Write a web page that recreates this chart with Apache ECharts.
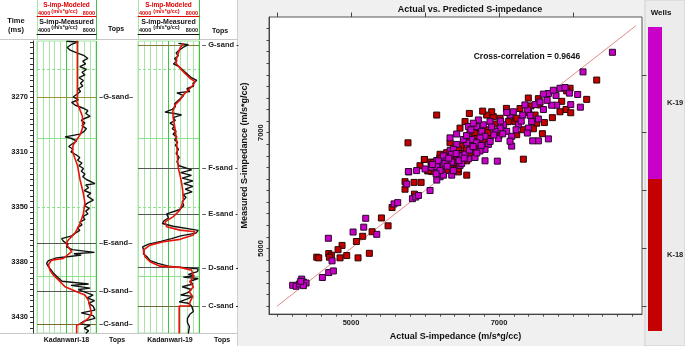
<!DOCTYPE html>
<html>
<head>
<meta charset="utf-8">
<script src="https://cdn.jsdelivr.net/npm/echarts@6/dist/echarts.min.js"></script>
<style>
  html, body { margin: 0; padding: 0; background: #fff; }
  #chart { width: 685px; height: 346px; }
</style>
</head>
<body>
<div id="chart"></div>
<script>
var FONT = '"Liberation Sans", Arial, sans-serif';
var MAGENTA = '#c800c8';
var DARKRED = '#c40000';
var LOGRED = '#e8140c';

// ---- well log data: [S-impedance, time ms] ----
var timeTicks = [3270, 3310, 3350, 3390, 3430];
var timeLabels = ['3270', '3310', '3350', '3380', '3430'];
var gridDashed = [3250, 3350];
var gridSolid = [3300, 3400];

var tops18 = ['G-sand', 'E-sand', 'D-sand', 'C-sand'];
var tops18Time = [3270, 3376.2, 3411.1, 3435.1];
var tops19 = ['G-sand', 'F-sand', 'E-sand', 'D-sand', 'C-sand'];
var tops19Time = [3232.5, 3321.6, 3355.3, 3394.1, 3422];

var measured18 = [
  [6000, 3229.5], [6800, 3230], [6300, 3232], [6050, 3234], [6250, 3236], [6700, 3238], [7200, 3240],
  [7450, 3242], [7100, 3244], [7300, 3246], [6900, 3248], [7350, 3250], [7050, 3252], [7250, 3254],
  [6850, 3256], [7150, 3258], [6950, 3260], [7100, 3262], [6800, 3264], [6950, 3266], [6700, 3268],
  [6450, 3270], [6800, 3272], [6350, 3274], [6600, 3276], [7100, 3278], [7450, 3280], [7300, 3282],
  [7600, 3284], [7150, 3286], [7000, 3287], [7250, 3289], [7050, 3291], [7350, 3293], [7200, 3295],
  [6900, 3297], [5900, 3299], [6300, 3300], [6700, 3302], [6400, 3304], [6150, 3306], [6450, 3308],
  [6300, 3310], [6650, 3312], [6900, 3314], [6750, 3316], [7050, 3318], [6850, 3320], [7150, 3322],
  [7000, 3324], [7250, 3326], [7100, 3328], [7350, 3330], [7930, 3333], [7300, 3334], [7500, 3336],
  [7200, 3338], [7650, 3340], [7400, 3342], [7820, 3345], [7450, 3347], [7200, 3349], [7550, 3351],
  [7300, 3353], [7450, 3355], [7100, 3357], [7250, 3359], [6900, 3361], [7050, 3363], [6750, 3365],
  [6900, 3367], [6600, 3369], [6350, 3371], [5670, 3373], [5800, 3375], [6100, 3377], [6000, 3379],
  [6400, 3381], [7900, 3383], [6500, 3384], [7000, 3385], [6200, 3386], [5330, 3387], [4770, 3389],
  [4650, 3391], [4750, 3393], [4900, 3395], [5100, 3398], [5400, 3401], [5700, 3404], [7500, 3406],
  [6300, 3407], [7600, 3409], [6800, 3410], [7300, 3412], [7800, 3414], [7400, 3416], [7900, 3418],
  [7500, 3420], [7800, 3422], [7930, 3425], [7000, 3427], [7800, 3429], [7930, 3431], [7200, 3433],
  [6900, 3435], [7600, 3436], [7200, 3438], [7500, 3440], [7300, 3442]
];
var modeled18 = [
  [6735, 3229], [6735, 3270], [6680, 3273], [6900, 3279], [7080, 3284], [7100, 3292], [6950, 3297],
  [6700, 3301], [6450, 3305], [6400, 3309], [6550, 3314], [6750, 3320], [6915, 3330], [7140, 3340],
  [7250, 3347], [7140, 3355], [6915, 3362], [6580, 3369], [6120, 3374], [5970, 3376.5], [6120, 3379],
  [6350, 3382.5], [5790, 3387.4], [4990, 3388.6], [4770, 3392], [4880, 3396], [5110, 3399.5],
  [5450, 3403], [5900, 3408], [6690, 3411.6], [7250, 3414], [7480, 3417.7], [7590, 3422.5],
  [7700, 3427.4], [7480, 3431], [7030, 3434.6], [6690, 3436], [6690, 3442]
];
var measured19 = [
  [6650, 3231], [7300, 3232], [6950, 3234], [6700, 3236], [6500, 3238], [6650, 3240], [6400, 3242],
  [6550, 3244], [6320, 3246], [6700, 3248], [6900, 3250], [7100, 3252], [7300, 3254], [7500, 3256],
  [7850, 3258], [7600, 3260], [7650, 3262], [7200, 3264], [7400, 3266], [6550, 3267], [7000, 3269],
  [6800, 3271], [6600, 3273], [6400, 3275], [6450, 3277], [6250, 3279], [5770, 3281], [6400, 3282],
  [6860, 3283], [6300, 3285], [6450, 3287], [6100, 3289], [6400, 3291], [6250, 3293], [6500, 3295],
  [6300, 3297], [6550, 3299], [6400, 3301], [6600, 3303], [6450, 3305], [6650, 3308], [6500, 3311],
  [6700, 3314], [6550, 3317], [6700, 3320], [7520, 3323], [6800, 3325], [7500, 3327], [6900, 3329],
  [7600, 3331], [7000, 3333], [7600, 3335], [7100, 3337], [7550, 3339], [6950, 3341], [7150, 3343],
  [6900, 3346], [7000, 3349], [6700, 3352], [5880, 3355], [6000, 3358], [5700, 3360], [5600, 3362],
  [6300, 3364], [7950, 3367], [7800, 3369], [6800, 3371], [6200, 3373], [5500, 3375], [4700, 3377],
  [4300, 3379], [4240, 3380], [4400, 3382], [4350, 3384], [4570, 3386], [4800, 3389], [5300, 3391],
  [6000, 3393], [7950, 3395], [7900, 3397], [7300, 3399], [7700, 3400], [6970, 3401], [7950, 3402],
  [7400, 3404], [7600, 3406], [6900, 3408], [7500, 3410], [7300, 3412], [6800, 3414], [7600, 3415],
  [7200, 3417], [6700, 3419], [7300, 3420], [7520, 3422]
];
var measured19Tail = [
  [7520, 3422], [7630, 3426], [7400, 3428], [7240, 3431], [7240, 3434], [7370, 3437], [7300, 3442]
];
var modeled19 = [
  [6973, 3231], [6754, 3234.6], [6535, 3241.9], [6492, 3245.5], [6754, 3249], [7082, 3252.8],
  [7410, 3256.4], [7738, 3258.8], [7628, 3261.3], [7300, 3264.9], [6973, 3268.5], [6754, 3272.2],
  [6426, 3275.8], [6273, 3280.7], [6317, 3285.5], [6426, 3292.8], [6535, 3302.5], [6579, 3312.2],
  [6645, 3321.9], [6754, 3326.7], [6864, 3332.8], [6929, 3337.7], [6973, 3345], [6754, 3352.2],
  [6317, 3357], [5770, 3360.7], [5880, 3364.3], [6754, 3366.8], [7738, 3368], [7628, 3370.4],
  [6754, 3373.5], [5661, 3375.2], [4787, 3377.7], [4349, 3381.3], [4458, 3386.2], [4787, 3389.8],
  [5443, 3393], [6754, 3393.9], [7519, 3395.9], [7628, 3400.7], [7410, 3404.3], [7628, 3408],
  [7366, 3411.6], [7585, 3415.2], [7410, 3418.9], [7366, 3422], [6700, 3422], [6700, 3442]
];

// ---- cross-plot data: [actual, measured] ----
var k19Points = [
  [4212, 4362], [4257, 4345], [4302, 4384], [4334, 4469], [4357, 4418], [4393, 4401], [4357, 4356],
  [4320, 4430], [4613, 4497], [4699, 4582], [4762, 4610], [4744, 4785], [4694, 5175], [5028, 5283],
  [5172, 5367], [5199, 5520], [5348, 5243], [5582, 5769], [5631, 5791], [5753, 6113], [5780, 6322],
  [5830, 5859], [5875, 5887], [5911, 5915], [6068, 6000], [6159, 6520], [6204, 6492], [6249, 6520],
  [6226, 6322], [6204, 6238], [6249, 6266], [6361, 6492], [6496, 6605], [6474, 6435], [6361, 6266],
  [6339, 6690], [6586, 6548], [6159, 6181], [8532, 8390], [8135, 8051], [8063, 7661], [8099, 7441],
  [5775, 6328], [6977, 6508], [7667, 6893], [7532, 6859], [7455, 6859], [7969, 7486], [7779, 7475],
  [7712, 7475], [7770, 7644], [7667, 7678], [7599, 7667], [7734, 7734], [7824, 7768], [7892, 7780],
  [7951, 7684], [7487, 7486], [7554, 7531], [7387, 7390], [7320, 7305], [7532, 7237], [7441, 7192],
  [7396, 7079], [7383, 6994], [7261, 7136], [7149, 7305], [7104, 7350], [7194, 7362], [7059, 7136],
  [7014, 7079], [7104, 7023], [7171, 6938], [7171, 6768], [7149, 6853], [6878, 7192], [6788, 7136],
  [6721, 7220], [6698, 7107], [6766, 7023], [6946, 7023], [6991, 6898], [6811, 6938], [6743, 6910],
  [6428, 6977], [6631, 6881], [6698, 6825], [6856, 6797], [6811, 6712], [6743, 6684], [6563, 6825],
  [6518, 6881], [6428, 6797], [6383, 6712], [6360, 6627], [6248, 6599], [6180, 6514], [6293, 6514],
  [6473, 6599], [6541, 6627], [6676, 6571], [6811, 6514], [6090, 6401], [6158, 6412], [6248, 6429],
  [6496, 6469], [6203, 6345], [6383, 6345], [6338, 6910], [6586, 7107], [6653, 7164], [5887, 6345],
  [6000, 6373], [6270, 6470], [6320, 6560], [6420, 6640], [6460, 6520], [6530, 6560], [6600, 6700],
  [6650, 6760], [6700, 6650], [6760, 6780], [6880, 6850], [6930, 6960], [7050, 6980], [7230, 7050],
  [7300, 7200], [7420, 7300], [7600, 7400], [6150, 6290], [6300, 6420], [6560, 6950], [6620, 7050],
  [6900, 7100], [7020, 7200], [7350, 7480], [7650, 7560], [6100, 6450]
];
var k18Points = [
  [4537, 4848], [4564, 4836], [4699, 4910], [4735, 4882], [4708, 4848], [4852, 4836], [4879, 5051],
  [4825, 4978], [4942, 4876], [5095, 4836], [5248, 4915], [5073, 5119], [5158, 5209], [5285, 5288],
  [5411, 5526], [5501, 5390], [5555, 5706], [5730, 6153], [5730, 6023], [5852, 6141], [5947, 6141],
  [5857, 5938], [5992, 6537], [6037, 6339], [6091, 6328], [6082, 6492], [6181, 6407], [6294, 6351],
  [6406, 6520], [6429, 6407], [6541, 6633], [6564, 6266], [6249, 6605], [6451, 6322], [6226, 6605],
  [8320, 7910], [8185, 7576], [6158, 7305], [5770, 6825], [5991, 6537], [7329, 6542], [7586, 6983],
  [7721, 7260], [7847, 7542], [7905, 7401], [7969, 7345], [7824, 7362], [7960, 7768], [7914, 7723],
  [7532, 7588], [7396, 7599], [7432, 7463], [7284, 7418], [7487, 7305], [7613, 7175], [7509, 7164],
  [7464, 7068], [7329, 7051], [7216, 7192], [7239, 7249], [7126, 7192], [7239, 6966], [7014, 7249],
  [6923, 7277], [6901, 7362], [6833, 7305], [6779, 7373], [6833, 7051], [6878, 6910], [6676, 6994],
  [6608, 7051], [6599, 7333], [6541, 7192], [6473, 7079], [6586, 6938], [6788, 6853], [6676, 6740],
  [6608, 6768], [6496, 6768], [6450, 6712], [6338, 6825], [6293, 6655], [6203, 6627], [6405, 6542],
  [6608, 6627], [6113, 6486], [6338, 6401], [6428, 6412], [6045, 6345], [6293, 6345], [6450, 6373],
  [6563, 6514], [6743, 7079], [5932, 6429], [6350, 6600], [6480, 6640], [6560, 6700], [6700, 6900],
  [6850, 7000], [6950, 7150], [7100, 7420], [7400, 7350], [7550, 7480], [6250, 6480], [6380, 6480],
  [6650, 6850], [7000, 6950], [6200, 6560]
];
var refLine = [[4000, 4000], [8850, 8850]];
var scatterMajor = [4000, 5000, 6000, 7000, 8000];
var scatterLabels = [5000, 7000];
var scaleEnds = ['4000', '8000'];

// tick positions
var timeMinor = [];
for (var t = 3230; t <= 3440; t += 4) timeMinor.push(t);
var scatterMinor = [];
for (var s = 4000; s <= 8800; s += 200) scatterMinor.push(s);

var topColors18 = ['#9c9432', '#555', '#555', '#7d6a28'];
var topColors19 = ['#7f7a35', '#555', '#555', '#555', '#6b6b3a'];

function bold(size) { return 'bold ' + size + 'px ' + FONT; }
function plain(v) { return String(v); }

function gridLineMarks() {
  var d = [];
  gridDashed.forEach(function (v) { d.push({ yAxis: v, lineStyle: { type: [3, 2] } }); });
  gridSolid.forEach(function (v) { d.push({ yAxis: v, lineStyle: { type: 'solid' } }); });
  d.push({ xAxis: 6000, lineStyle: { color: '#3ec43e', type: 'solid' } });
  d.push({ xAxis: 8000, lineStyle: { color: '#3ec43e', type: 'solid' } });
  return {
    silent: true, symbol: ['none', 'none'], z: 1, animation: false,
    label: { show: false },
    lineStyle: { color: '#8fe08f', width: 1 },
    data: d
  };
}

function topsMarks(names, times, colors, fmt, stubs) {
  var d = names.map(function (n, i) {
    return { yAxis: times[i], label: { formatter: fmt(n) }, lineStyle: { color: colors[i] } };
  });
  (stubs || []).forEach(function (i) {
    d.push([{ coord: [3540, times[i]], label: { show: false }, lineStyle: { color: '#eaea40', width: 2 } },
            { coord: [4000, times[i]] }]);
  });
  return {
    silent: true, symbol: ['none', 'none'], z: 3, animation: false,
    lineStyle: { width: 1, type: 'solid' },
    label: { position: 'end', distance: 3, fontSize: 7.5, fontWeight: 'bold', color: '#222', fontFamily: FONT },
    data: d
  };
}

// two scale lines on top of each track: measured (black) and modeled (red)
function trackAxes(gridIndex) {
  var common = {
    gridIndex: gridIndex, type: 'value', position: 'top', min: 4000, max: 8000, interval: 400,
    axisTick: { show: false }, axisLabel: { show: false }
  };
  var meas = Object.assign({}, common, {
    offset: 7,
    axisLine: { show: true, lineStyle: { color: '#111', width: 1 } },
    splitLine: { show: true, lineStyle: { color: '#a8e6a8', width: 1 } }
  });
  var mod = Object.assign({}, common, {
    offset: 25,
    axisLine: { show: true, lineStyle: { color: '#e00000', width: 1 } },
    splitLine: { show: false }
  });
  return [meas, mod];
}

function text(str, x, y, size, color, align) {
  return { type: 'text', x: x, y: y, silent: true,
    style: { text: str, font: bold(size), fill: color || '#111', textAlign: align || 'center', textVerticalAlign: 'middle' } };
}
function hline(x1, x2, y, color) {
  return { type: 'line', silent: true, shape: { x1: x1, y1: y, x2: x2, y2: y }, style: { stroke: color, lineWidth: 1 } };
}
function vline(x, y1, y2, color) {
  return { type: 'line', silent: true, shape: { x1: x, y1: y1, x2: x, y2: y2 }, style: { stroke: color, lineWidth: 1 } };
}
// header scale text for one track
function scaleText(left, right, yLabel, yUnit, color) {
  return [
    text(scaleEnds[0], left + 1, yLabel, 5.5, color, 'left'),
    text('(m/s*g/cc)', (left + right) / 2 - 2, yUnit, 5.5, color),
    text(scaleEnds[1], right - 1, yLabel, 5.5, color, 'right')
  ];
}

var chart = echarts.init(document.getElementById('chart'), null, { renderer: 'canvas' });

var xAxes = trackAxes(0).concat(trackAxes(1)).concat([
  {
    gridIndex: 2, type: 'value', min: 3892, max: 8932,
    axisLine: { show: true, lineStyle: { color: '#444' } },
    axisTick: { show: true, customValues: scatterMinor, length: 2.5, lineStyle: { color: '#444' } },
    axisLabel: { customValues: scatterLabels, formatter: plain, margin: 5, fontSize: 7.5, fontWeight: 'bold', color: '#222', fontFamily: FONT },
    splitLine: { show: false },
    name: 'Actual S-impedance (m/s*g/cc)', nameLocation: 'middle', nameGap: 14,
    nameTextStyle: { fontSize: 9, fontWeight: 'bold', color: '#111', fontFamily: FONT }
  },
  {
    gridIndex: 2, type: 'value', min: 3892, max: 8932,
    axisLine: { show: false },
    axisTick: { show: true, customValues: scatterMajor, length: 4.5, lineStyle: { color: '#444' } },
    axisLabel: { show: false }, splitLine: { show: false }
  }
]);

var yAxes = [
  {
    gridIndex: 0, type: 'value', inverse: true, min: 3229.3, max: 3441.6, offset: 4,
    axisLine: { show: true, lineStyle: { color: '#333' } },
    axisTick: { show: true, customValues: timeMinor, length: 3, lineStyle: { color: '#333' } },
    axisLabel: {
      customValues: timeTicks, margin: 5, fontSize: 7.5, fontWeight: 'bold', color: '#111', fontFamily: FONT,
      formatter: function (v) { var i = timeTicks.indexOf(v); return i >= 0 ? timeLabels[i] : ''; }
    },
    splitLine: { show: false }
  },
  { gridIndex: 1, type: 'value', inverse: true, min: 3229.3, max: 3441.6, show: false, splitLine: { show: false } },
  {
    gridIndex: 2, type: 'value', min: 3864, max: 9000,
    axisLine: { show: true, lineStyle: { color: '#444' } },
    axisTick: { show: true, customValues: scatterMinor, length: 2.5, lineStyle: { color: '#444' } },
    axisLabel: { customValues: scatterLabels, formatter: plain, rotate: 90, margin: 4, fontSize: 7.5, fontWeight: 'bold', color: '#222', fontFamily: FONT },
    splitLine: { show: false },
    name: 'Measured S-impedance (m/s*g/cc)', nameLocation: 'middle', nameGap: 18, nameRotate: 90,
    nameTextStyle: { fontSize: 9, fontWeight: 'bold', color: '#111', fontFamily: FONT, padding: [0, 0, 0, 20] }
  },
  {
    gridIndex: 2, type: 'value', min: 3864, max: 9000,
    axisLine: { show: false },
    axisTick: { show: true, customValues: scatterMajor, length: 4.5, lineStyle: { color: '#444' } },
    axisLabel: { show: false }, splitLine: { show: false }
  }
];

function logLine(name, data, xi, yi, color, width) {
  return {
    name: name, type: 'line', xAxisIndex: xi, yAxisIndex: yi, data: data,
    symbol: 'none', silent: true, clip: true,
    lineStyle: { color: color, width: width }, z: 4
  };
}

var option = {
  animation: false,
  backgroundColor: '#f0f0f0',
  textStyle: { fontFamily: FONT },
  grid: [
    { left: 37, top: 41, width: 59, height: 292, show: true, borderColor: '#a8e6a8', borderWidth: 1, backgroundColor: '#fff' },
    { left: 138, top: 41, width: 61, height: 292, show: true, borderColor: '#a8e6a8', borderWidth: 1, backgroundColor: '#fff' },
    { left: 269, top: 17, width: 373, height: 303, show: true, borderColor: '#555', borderWidth: 1, backgroundColor: '#fff' }
  ],
  xAxis: xAxes,
  yAxis: yAxes,
  legend: {
    data: ['K-19', 'K-18'], orient: 'vertical', left: 648, top: 27, padding: 0,
    itemWidth: 14, itemHeight: 152, itemGap: 0, icon: 'rect', selectedMode: false,
    itemStyle: { borderWidth: 0 },
    textStyle: { fontSize: 7.5, fontWeight: 'bold', color: '#222', fontFamily: FONT }
  },
  graphic: [
    { type: 'rect', z: -1, silent: true, shape: { x: 0, y: 0, width: 237, height: 346 }, style: { fill: '#fff' } },
    { type: 'rect', z: -1, silent: true, shape: { x: 645, y: 0, width: 40, height: 346 }, style: { fill: '#ececec', stroke: '#cfcfcf' } },
    hline(0, 237, 39.5, '#c8c8c8'),
    hline(0, 237, 333.5, '#c8c8c8'),
    vline(237.5, 0, 346, '#d0d0d0'),
    vline(37.5, 0, 40, '#a8e6a8'), vline(96.5, 0, 40, '#3ec43e'),
    vline(138.5, 0, 40, '#a8e6a8'), vline(199.5, 0, 40, '#3ec43e'),
    text('Time', 16, 21, 7.5), text('(ms)', 16, 30, 7.5),
    text('S-imp-Modeled', 66.5, 5, 6.5, '#e00000'),
    text('S-imp-Measured', 66.5, 22, 7),
    text('S-imp-Modeled', 168.5, 5, 6.5, '#e00000'),
    text('S-imp-Measured', 168.5, 22, 7),
    text('Tops', 116, 29, 7), text('Tops', 220, 31, 7),
    text('Kadanwari-18', 66.5, 340, 7), text('Tops', 117, 340, 7),
    text('Kadanwari-19', 170, 340, 7), text('Tops', 222, 340, 7),
    text('Actual vs. Predicted S-impedance', 470, 10, 9),
    text('Cross-correlation = 0.9646', 527, 57, 8.5),
    text('Wells', 661, 13, 8)
  ].concat(scaleText(37, 96, 13, 11, '#e00000'))
   .concat(scaleText(37, 96, 30, 27.5, '#111'))
   .concat(scaleText(138, 199, 13, 11, '#e00000'))
   .concat(scaleText(138, 199, 30, 27.5, '#111')),
  series: [
    { name: 'grid18', type: 'line', xAxisIndex: 0, yAxisIndex: 0, data: [], silent: true, markLine: gridLineMarks() },
    { name: 'tops18', type: 'line', xAxisIndex: 0, yAxisIndex: 0, data: [], silent: true,
      markLine: topsMarks(tops18, tops18Time, topColors18, function (n) { return '\u2013' + n + '\u2013'; }) },
    logLine('measured18', measured18, 0, 0, '#111', 1.4),
    logLine('modeled18', modeled18, 1, 0, LOGRED, 1.6),

    { name: 'grid19', type: 'line', xAxisIndex: 2, yAxisIndex: 1, data: [], silent: true, markLine: gridLineMarks() },
    { name: 'tops19', type: 'line', xAxisIndex: 2, yAxisIndex: 1, data: [], silent: true, clip: false,
      markLine: topsMarks(tops19, tops19Time, topColors19, function (n) { return '\u2013 ' + n + ' -'; }, [0, 4]) },
    logLine('measured19', measured19, 2, 1, '#111', 1.4),
    logLine('measured19Tail', measured19Tail, 2, 1, '#111', 1.4),
    logLine('modeled19', modeled19, 3, 1, LOGRED, 1.6),

    { name: 'ref', type: 'line', xAxisIndex: 4, yAxisIndex: 2, data: refLine, symbol: 'none', silent: true,
      lineStyle: { color: '#e08a8a', width: 1 }, z: 2 },
    { name: 'K-18', type: 'scatter', xAxisIndex: 4, yAxisIndex: 2, data: k18Points, symbol: 'rect', symbolSize: 6,
      itemStyle: { color: DARKRED, borderColor: '#2a0808', borderWidth: 1, opacity: 1 }, z: 3 },
    { name: 'K-19', type: 'scatter', xAxisIndex: 4, yAxisIndex: 2, data: k19Points, symbol: 'rect', symbolSize: 6,
      itemStyle: { color: MAGENTA, borderColor: '#2a082a', borderWidth: 1, opacity: 1 }, z: 3 }
  ]
};

chart.setOption(option);
</script>
</body>
</html>
